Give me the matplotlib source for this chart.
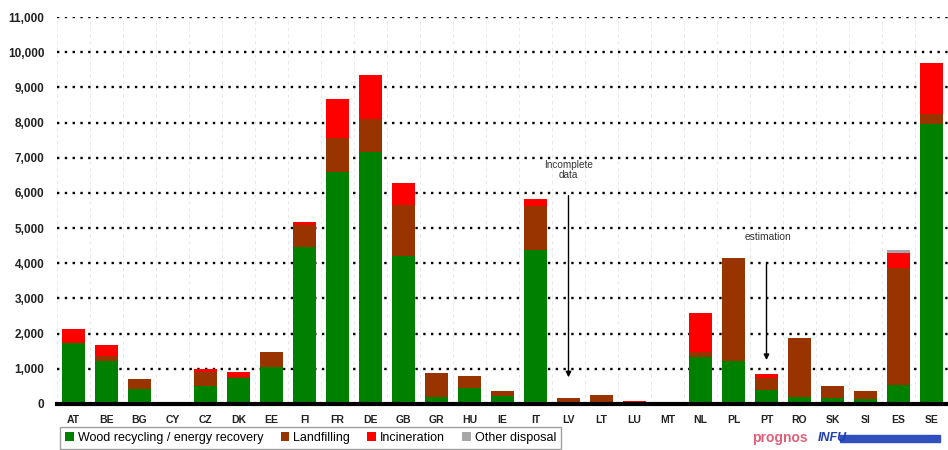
import numpy as np
import matplotlib.pyplot as plt
from matplotlib.patches import Rectangle

plt.rcParams['font.family'] = ['Liberation Sans', 'DejaVu Sans']

countries = ['AT', 'BE', 'BG', 'CY', 'CZ', 'DK', 'EE', 'FI', 'FR', 'DE', 'GB', 'GR', 'HU', 'IE',
             'IT', 'LV', 'LT', 'LU', 'MT', 'NL', 'PL', 'PT', 'RO', 'SK', 'SI', 'ES', 'SE']

# amounts per country, 1000 t
wood_recovery = [1730, 1230, 420, 0, 510, 730, 1040, 4470, 6600, 7170, 4220, 190, 450, 230,
                 4390, 0, 0, 0, 0, 1330, 1230, 400, 190, 180, 130, 540, 7970]
landfilling = [0, 130, 280, 70, 410, 30, 450, 630, 970, 930, 1430, 680, 350, 140,
               1235, 180, 260, 40, 0, 160, 2930, 330, 1700, 340, 240, 3330, 260]
incineration = [400, 320, 0, 0, 65, 160, 0, 80, 1090, 1240, 620, 0, 0, 0,
                215, 0, 0, 40, 0, 1090, 0, 120, 0, 0, 0, 430, 1470]
other_disposal = [0, 0, 0, 0, 0, 0, 0, 0, 0, 0, 0, 0, 0, 0,
                  0, 0, 0, 0, 0, 0, 0, 0, 0, 0, 0, 90, 0]

yticks = list(range(0, 11001, 1000))

GREEN = '#008000'
BROWN = '#993300'
RED = '#ff0000'
GREY = '#a6a6a6'

fig = plt.figure(figsize=(9.48, 4.5), dpi=100)
ax = fig.add_axes([57 / 948, 1 - 404 / 450, 1 - 57 / 948, (404 - 17) / 450])

x = np.arange(len(countries))
w = 0.67
wood = np.array(wood_recovery)
land = np.array(landfilling)
inc = np.array(incineration)
oth = np.array(other_disposal)

ax.bar(x, wood, w, color=GREEN, label='Wood recycling / energy recovery', zorder=3)
ax.bar(x, land, w, bottom=wood, color=BROWN, label='Landfilling', zorder=3)
ax.bar(x, inc, w, bottom=wood + land, color=RED, label='Incineration', zorder=3)
ax.bar(x, oth, w, bottom=wood + land + inc, color=GREY, label='Other disposal', zorder=3)

ax.set_xlim(-0.5, len(countries) - 0.5)
ax.set_ylim(0, 11000)

# dotted horizontal grid, faint vertical separators
for v in yticks[1:]:
    ax.axhline(v, color='black', lw=1.7, ls=(0, (1, 2.3)), zorder=1)
for b in np.arange(-0.5, len(countries), 1):
    ax.axvline(b, color='#e4e4e4', lw=0.6, ls=(0, (4, 4)), zorder=0)
ax.axhline(0, color='black', lw=3, zorder=4, clip_on=False)

for s in ax.spines.values():
    s.set_visible(False)

ax.set_yticks(yticks)
ax.set_yticklabels([f'{v:,}' for v in yticks], fontsize=8.5, fontweight='bold', color='#222222')
ax.set_xticks(x)
ax.set_xticklabels(countries, fontsize=7.5, fontweight='bold', color='#222222')
ax.tick_params(axis='both', length=0)
ax.tick_params(axis='y', pad=9)
ax.tick_params(axis='x', pad=8)

# annotations
ax.annotate('', xy=(15, 680), xytext=(15, 6000),
            arrowprops=dict(arrowstyle='-|>', color='black', lw=1, mutation_scale=8), zorder=5)
ax.text(15, 6650, 'Incomplete\ndata', ha='center', va='center', fontsize=7.2,
        color='#333333', linespacing=1.0, zorder=5)
ax.annotate('', xy=(21, 1170), xytext=(21, 4100),
            arrowprops=dict(arrowstyle='-|>', color='black', lw=1, mutation_scale=8), zorder=5)
ax.text(21.05, 4750, 'estimation', ha='center', va='center', fontsize=7.4,
        color='#333333', zorder=5)

leg = fig.legend(loc='upper left', bbox_to_anchor=(60 / 948, 1 - 427 / 450), ncol=4,
                 fontsize=9, frameon=True, fancybox=False, edgecolor='#888888',
                 handlelength=0.7, handleheight=0.7, handletextpad=0.3, columnspacing=1.4,
                 borderpad=0.4, borderaxespad=0)
leg.get_frame().set_linewidth(1)

# source logos
fig.text(752 / 948, 1 - 438 / 450, 'prognos', fontsize=10, color='#e0607a',
         fontweight='bold', va='center', ha='left')
fig.patches.append(Rectangle((840 / 948, 1 - 442 / 450), 100 / 948, 7 / 450,
                             transform=fig.transFigure, color='#3050c0', zorder=1))
fig.text(818 / 948, 1 - 438 / 450, 'INFU', fontsize=9, color='#2040b0',
         fontweight='bold', style='italic', va='center', ha='left', zorder=2)

fig.savefig('out.png', dpi=100)
